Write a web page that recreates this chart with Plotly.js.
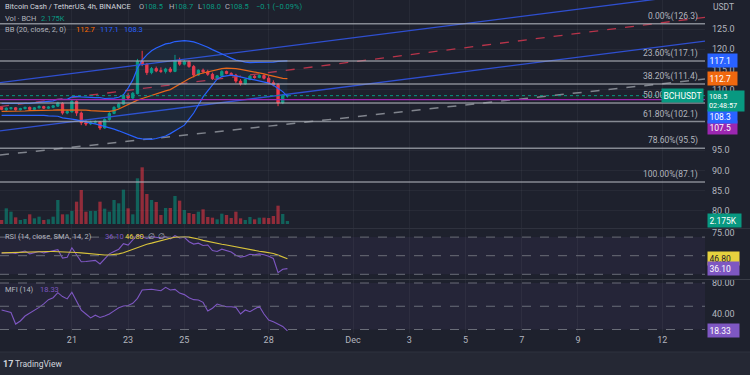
<!DOCTYPE html>
<html><head><meta charset="utf-8">
<script src="https://cdn.plot.ly/plotly-3.0.1.min.js"></script>
<style>html,body{margin:0;padding:0;background:#1e212d;overflow:hidden}#chart{width:750px;height:375px}</style>
</head><body><div id="chart"></div>
<script>
const times = [
'2022-11-18 12:00','2022-11-18 16:00','2022-11-18 20:00',
'2022-11-19 00:00','2022-11-19 04:00','2022-11-19 08:00','2022-11-19 12:00','2022-11-19 16:00','2022-11-19 20:00',
'2022-11-20 00:00','2022-11-20 04:00','2022-11-20 08:00','2022-11-20 12:00','2022-11-20 16:00','2022-11-20 20:00',
'2022-11-21 00:00','2022-11-21 04:00','2022-11-21 08:00','2022-11-21 12:00','2022-11-21 16:00','2022-11-21 20:00',
'2022-11-22 00:00','2022-11-22 04:00','2022-11-22 08:00','2022-11-22 12:00','2022-11-22 16:00','2022-11-22 20:00',
'2022-11-23 00:00','2022-11-23 04:00','2022-11-23 08:00','2022-11-23 12:00','2022-11-23 16:00','2022-11-23 20:00',
'2022-11-24 00:00','2022-11-24 04:00','2022-11-24 08:00','2022-11-24 12:00','2022-11-24 16:00','2022-11-24 20:00',
'2022-11-25 00:00','2022-11-25 04:00','2022-11-25 08:00','2022-11-25 12:00','2022-11-25 16:00','2022-11-25 20:00',
'2022-11-26 00:00','2022-11-26 04:00','2022-11-26 08:00','2022-11-26 12:00','2022-11-26 16:00','2022-11-26 20:00',
'2022-11-27 00:00','2022-11-27 04:00','2022-11-27 08:00','2022-11-27 12:00','2022-11-27 16:00','2022-11-27 20:00',
'2022-11-28 00:00','2022-11-28 04:00','2022-11-28 08:00','2022-11-28 12:00','2022-11-28 16:00'];

const openP = [105.6,105.0,105.3,105.5,105.0,105.3,105.6,105.1,105.5,105.8,
105.4,105.6,105.9,106.6,104.2,104.5,107.1,104.2,101.8,101.5,
101.9,102.0,100.5,102.6,104.1,105.6,106.4,108.6,107.9,109.0,
117.0,116.3,114.2,115.2,114.7,114.5,115.1,114.5,117.2,116.3,
116.9,115.7,113.6,114.8,114.4,113.8,112.7,113.4,114.5,114.0,
113.6,112.1,111.4,112.5,113.3,113.0,113.5,112.8,111.7,111.2,
106.7,108.46];
const highP = [105.8,105.6,105.7,105.7,105.5,105.8,105.8,105.7,106.1,106.0,
105.9,106.2,107.0,106.9,105.0,107.6,107.3,104.6,102.5,102.3,
102.4,102.2,102.9,104.4,105.9,106.8,108.9,109.2,109.4,117.6,
119.6,116.6,115.6,115.7,115.5,115.4,115.6,118.6,117.9,117.3,
117.2,116.1,115.0,115.2,114.9,114.2,113.6,114.8,114.7,114.3,
113.9,112.6,112.8,113.6,113.6,113.8,113.8,113.5,112.3,111.6,
108.9,108.7];
const lowP = [104.9,104.7,105.0,104.8,104.8,105.1,104.9,105.0,105.3,105.2,
105.2,105.4,105.7,103.8,103.9,104.3,103.5,101.2,101.0,101.2,
101.5,100.0,100.3,102.3,103.9,105.2,106.2,107.5,107.6,108.8,
115.8,113.6,113.8,114.3,114.1,114.0,114.2,114.3,115.9,116.0,
115.4,113.0,113.4,114.0,113.4,112.4,112.5,113.2,113.8,113.4,
111.6,111.0,111.2,112.3,112.7,112.8,112.5,111.3,110.8,105.9,
106.4,108.0];
const closeP = [105.1,105.4,105.5,105.0,105.3,105.6,105.1,105.5,105.8,105.4,
105.7,106.0,106.7,104.2,104.6,107.1,104.2,101.8,101.5,101.9,
102.1,100.5,102.6,104.1,105.6,106.4,108.6,107.9,109.1,117.0,
116.2,114.2,115.2,114.6,114.5,115.1,114.5,117.2,116.3,116.9,
115.7,113.6,114.8,114.4,113.8,112.7,113.4,114.5,114.0,113.6,
112.1,111.4,112.5,113.3,113.0,113.5,112.8,111.7,111.2,106.7,
108.6,108.5];
const volume = [2900,11360,8940,4830,2900,3630,7010,4110,5320,2900,
3380,5320,17400,7010,7010,9430,16190,24650,8940,9430,
9430,16190,11120,8940,17400,14990,24900,11360,7010,33110,
41090,21750,17400,15950,6530,11600,11600,20300,16920,10150,
7980,7250,8940,10640,5080,4590,3380,7490,6530,4350,
8940,4110,2900,5080,3380,4590,4590,4350,5800,13290,
7250,2175];
const bbUpper = [106.6,106.6,106.6,106.5,106.5,106.5,106.6,106.7,106.8,106.9,
107.0,107.2,107.6,107.6,107.6,108.2,108.3,108.2,108.2,108.1,
108.0,108.0,107.8,107.8,107.9,108.1,108.7,110.4,112.4,115.3,
117.3,118.6,119.6,120.3,120.8,121.3,121.5,121.9,122.0,122.1,
122.0,121.8,121.4,121.0,120.5,119.9,119.3,118.8,118.3,117.8,
117.3,117.1,116.8,116.7,116.7,116.7,116.7,116.7,116.8,117.0,
117.1,117.1];
const bbBasis = [104.6,104.6,104.6,104.7,104.7,104.7,104.8,104.8,104.8,104.9,
104.9,104.9,105.0,105.0,105.0,105.0,105.0,104.9,104.9,104.8,
104.7,104.6,104.6,104.6,104.8,105.2,105.8,106.3,106.9,107.4,
107.8,108.2,108.6,109.0,109.4,109.7,110.0,110.6,111.3,112.0,
112.7,113.3,113.8,114.1,114.4,114.7,115.0,115.2,115.3,115.3,
115.2,115.0,114.8,114.6,114.4,114.1,113.9,113.6,113.3,113.0,
112.8,112.7];
const bbLower = [103.6,103.6,103.6,103.7,103.7,103.7,103.7,103.7,103.6,103.6,
103.5,103.5,103.4,103.0,102.9,102.7,102.5,102.2,102.0,101.7,
101.5,101.2,100.9,100.5,100.2,99.8,99.3,98.8,98.4,98.0,
97.8,97.7,97.7,97.9,98.2,98.5,99.1,99.8,100.5,101.2,
102.7,104.2,106.2,108.2,109.7,111.1,112.6,113.2,113.4,113.6,
113.4,113.1,112.8,112.6,112.4,112.1,111.9,111.6,111.1,110.4,
109.5,108.3];
const rsi = [52.6,53.0,53.2,52.5,53.5,55.0,52.0,53.5,54.5,53.0,
54.0,55.4,56.5,47.5,48.3,58.5,50.5,43.5,43.8,44.8,
45.0,41.1,46.5,52.0,54.5,57.0,63.0,61.5,67.0,72.3,
70.5,68.5,70.5,69.5,69.0,70.5,68.0,71.5,69.0,69.8,
65.0,62.5,63.5,61.0,61.5,55.5,54.5,57.0,55.5,54.0,
50.5,48.5,49.5,51.5,51.0,52.0,51.0,49.5,47.0,31.7,
35.4,36.1];
const rsiSma = [53.0,53.2,53.5,53.8,54.0,54.2,54.3,54.3,54.3,54.4,
54.5,54.5,54.4,54.2,54.0,53.8,53.4,53.0,52.5,52.0,
51.5,51.0,50.8,50.8,51.2,52.0,53.2,55.0,57.0,59.0,
60.8,62.3,63.5,65.0,66.3,67.5,68.8,69.8,70.4,70.3,
70.0,69.3,68.0,66.5,65.3,64.2,63.2,62.3,61.5,60.5,
59.4,58.3,57.2,56.3,55.5,54.8,54.1,53.4,52.4,50.6,
48.7,46.8];
const mfi = [45.2,44.0,42.0,27.0,31.0,37.4,40.9,44.0,48.5,53.0,
58.5,61.0,67.5,62.5,59.5,68.0,57.0,45.0,40.0,35.0,
38.5,35.5,37.5,40.0,44.0,48.0,50.3,51.0,53.8,60.2,
71.0,71.5,72.0,71.0,70.0,74.4,71.0,71.8,67.0,65.0,
61.0,58.5,58.1,55.0,44.0,47.5,52.9,51.0,49.4,49.4,
48.6,40.0,45.2,43.0,46.0,50.0,40.0,32.3,30.0,27.1,
24.0,18.33];

const fibPrices = [126.3,117.1,111.4,106.7,102.1,95.5,87.1];
const fibLabels = ['0.00%(126.3)','23.60%(117.1)','38.20%(111.4)','50.00%(106.7)','61.80%(102.1)','78.60%(95.5)','100.00%(87.1)'];
const hLinePrice = 107.5;
const lineTimes = ['2022-11-18 10:38','2022-12-13 12:29'];
const channelUpper = [111.7,133.9];
const channelMid = [105.8,127.9];
const channelLower = [99.8,122.0];
const dashedTrend = [93.8,112.6];
const tickDates = ['2022-11-21','2022-11-23','2022-11-25','2022-11-28','2022-12-01','2022-12-03','2022-12-05','2022-12-07','2022-12-09','2022-12-12'];
const tickText = ['21','23','25','28','Dec','3','5','7','9','12'];
const priceTicks = [80,85,90,95,110,115,120,125];
const rsiTicks = [75];
const mfiTicks = [40,80];
const countdown = '02:48:57';

const UP='#089981', DN='#f23645', TXT='#b2b5be', BG='#1e212d';
const W=705, H=333;
const px = x => x/W, py = y => (H-y)/H;
const FONT = 'Roboto, "Open Sans", sans-serif';
const last = a => a[a.length-1];

const volColors = closeP.map((c,i)=> c>=openP[i] ? 'rgba(8,153,129,0.55)' : 'rgba(242,54,69,0.55)');

const traces = [
  {type:'scatter',mode:'lines',x:lineTimes,y:channelUpper,line:{color:'#2f4fd0',width:1.3},xaxis:'x',yaxis:'y'},
  {type:'scatter',mode:'lines',x:lineTimes,y:channelLower,line:{color:'#2f4fd0',width:1.3},xaxis:'x',yaxis:'y'},
  {type:'scatter',mode:'lines',x:lineTimes,y:channelMid,line:{color:'#b8344a',width:1.3,dash:'dash'},xaxis:'x',yaxis:'y'},
  {type:'scatter',mode:'lines',x:lineTimes,y:dashedTrend,line:{color:'#80848d',width:1.5,dash:'dash'},xaxis:'x',yaxis:'y'},
  {type:'scatter',mode:'lines',x:times,y:bbUpper,line:{color:'#2962ff',width:1.2},xaxis:'x',yaxis:'y'},
  {type:'scatter',mode:'lines',x:times,y:bbLower,line:{color:'#2962ff',width:1.2},fill:'tonexty',fillcolor:'rgba(33,150,243,0.06)',xaxis:'x',yaxis:'y'},
  {type:'scatter',mode:'lines',x:times,y:bbBasis,line:{color:'#e8671a',width:1.2},xaxis:'x',yaxis:'y'},
  {type:'candlestick',x:times,open:openP,high:highP,low:lowP,close:closeP,xaxis:'x',yaxis:'y',
    increasing:{line:{color:UP,width:1},fillcolor:UP},decreasing:{line:{color:DN,width:1},fillcolor:DN},whiskerwidth:0},
  {type:'bar',x:times,y:volume,marker:{color:volColors,line:{width:0}},xaxis:'x',yaxis:'y4'},
  {type:'scatter',mode:'lines',x:times,y:rsi,line:{color:'#7e57c2',width:1.1},xaxis:'x',yaxis:'y2'},
  {type:'scatter',mode:'lines',x:times,y:rsiSma,line:{color:'#d9c43b',width:1.1},xaxis:'x',yaxis:'y2'},
  {type:'scatter',mode:'lines',x:times,y:mfi,line:{color:'#7e57c2',width:1.1},xaxis:'x',yaxis:'y3'}
];

const gray = t => `<span style="color:${TXT}">${t}</span>`;
const col = (t,c) => `<span style="color:${c}">${t}</span>`;
const chg = last(closeP) - closeP[closeP.length-2];
const pct = chg/closeP[closeP.length-2]*100;
const fmtK = v => (v/1000).toFixed(3)+'K';

function hdr(x,y,text,size){return {xref:'paper',yref:'paper',x:px(x),y:py(y),xanchor:'left',yanchor:'middle',text:text,showarrow:false,font:{family:FONT,size:size||7.5,color:'#d1d4dc'}};}
function box(yref,y,text,bg,fc,yshift,w){return {xref:'paper',yref:yref,x:1,xanchor:'left',xshift:2,y:y,yanchor:'middle',yshift:yshift||0,text:text,showarrow:false,bgcolor:bg,borderpad:1.5,width:w||26,align:'left',font:{family:FONT,size:8.5,color:fc||'#ffffff'}};}

const annotations = [
  hdr(3,7,'Bitcoin Cash / TetherUS, 4h, BINANCE'),
  hdr(137,7,gray('O')+col(Math.round(last(openP)*10)/10+'',UP)),
  hdr(167,7,gray('H')+col(last(highP).toFixed(1),UP)),
  hdr(196,7,gray('L')+col(last(lowP).toFixed(1),UP)),
  hdr(223,7,gray('C')+col(last(closeP).toFixed(1),UP)),
  hdr(254,7,col('−'+Math.abs(chg).toFixed(1)+' (−'+Math.abs(pct).toFixed(2)+'%)',UP)),
  hdr(3,18,gray('Vol · BCH')),
  hdr(39,18,col(fmtK(last(volume)),UP)),
  hdr(3,29,gray('BB (20, close, 2, 0)')),
  hdr(74,29,col(last(bbBasis).toFixed(1),'#ff6d00')),
  hdr(98,29,col(last(bbUpper).toFixed(1),'#2962ff')),
  hdr(122,29,col(last(bbLower).toFixed(1),'#2962ff')),
  hdr(3,236,gray('RSI (14, close, SMA, 14, 2)')),
  hdr(103,236,col(last(rsi).toFixed(2),'#7e57c2')),
  hdr(123,236,col(last(rsiSma).toFixed(2),'#e6d23e')),
  hdr(146,236,gray('∅')),
  hdr(156,236,gray('∅')),
  hdr(3,289,gray('MFI (14)')),
  hdr(38,289,col(last(mfi).toFixed(2),'#7e57c2')),
  {xref:'paper',yref:'paper',x:px(711),y:py(7),xanchor:'left',yanchor:'middle',text:'USDT',showarrow:false,font:{family:FONT,size:8.5,color:TXT}},
  {xref:'paper',yref:'paper',x:px(1),y:py(364),xanchor:'left',yanchor:'middle',text:'<b>17</b>',showarrow:false,font:{family:FONT,size:9,color:'#d1d4dc'}},
  {xref:'paper',yref:'paper',x:px(13),y:py(364),xanchor:'left',yanchor:'middle',text:'TradingView',showarrow:false,font:{family:FONT,size:8.5,color:'#d1d4dc'}}
];
fibPrices.forEach((p,i)=>annotations.push({xref:'paper',yref:'y',x:px(700),y:p,xanchor:'right',yanchor:'bottom',yshift:0,text:fibLabels[i],showarrow:false,font:{family:FONT,size:8.5,color:TXT}}));
annotations.push(
  box('y',last(bbUpper),last(bbUpper).toFixed(1),'#2962ff'),
  box('y',last(bbBasis),last(bbBasis).toFixed(1),'#f0680f'),
  box('y',hLinePrice,hLinePrice.toFixed(1),'#9c27b0','#fff',-27.5),
  box('y',last(bbLower),last(bbLower).toFixed(1),'#2962ff','#fff',-20.5),
  {xref:'paper',yref:'y',x:1,xanchor:'left',xshift:2,y:last(closeP),yanchor:'top',yshift:5.5,text:last(closeP).toFixed(1)+'<br>'+countdown,showarrow:false,bgcolor:UP,borderpad:1,width:34,align:'left',font:{family:FONT,size:7.3,color:'#ffffff'}},
  {xref:'paper',yref:'y',x:1,xanchor:'right',xshift:-1,y:last(closeP),yanchor:'middle',text:'BCHUSDT',showarrow:false,bgcolor:UP,borderpad:1.5,font:{family:FONT,size:8.5,color:'#ffffff'}},
  box('y4',last(volume),fmtK(last(volume)),'#089981','#fff',1,30),
  box('y2',last(rsiSma),last(rsiSma).toFixed(2),'#e6d23e','#1e212d',0,28),
  box('y2',last(rsi),last(rsi).toFixed(2),'#7e57c2','#fff',0,28),
  box('y3',last(mfi),last(mfi).toFixed(2),'#7e57c2','#fff',0,28)
);

const shapes = [
  {type:'rect',xref:'paper',yref:'y2',x0:0,x1:1,y0:30,y1:70,fillcolor:'rgba(126,87,194,0.08)',line:{width:0},layer:'below'},
  {type:'rect',xref:'paper',yref:'y3',x0:0,x1:1,y0:20,y1:80,fillcolor:'rgba(126,87,194,0.08)',line:{width:0},layer:'below'},
  {type:'rect',xref:'paper',yref:'paper',x0:0,x1:750/W,y0:py(375),y1:py(352),fillcolor:'#252834',line:{width:0},layer:'below'},
  {type:'line',xref:'paper',yref:'paper',x0:0,x1:750/W,y0:py(352),y1:py(352),line:{color:'#2f323e',width:1}},
  {type:'line',xref:'paper',yref:'paper',x0:0,x1:750/W,y0:py(228.5),y1:py(228.5),line:{color:'#2f323e',width:1}},
  {type:'line',xref:'paper',yref:'paper',x0:0,x1:750/W,y0:py(279.5),y1:py(279.5),line:{color:'#3a3d48',width:1}},
  {type:'line',xref:'paper',yref:'y',x0:0,x1:1,y0:hLinePrice,y1:hLinePrice,line:{color:'#9c27b0',width:1.2}},
  {type:'line',xref:'paper',yref:'y',x0:0,x1:1,y0:last(closeP),y1:last(closeP),line:{color:UP,width:1,dash:'dot'}}
];
fibPrices.forEach(p=>shapes.push({type:'line',xref:'paper',yref:'y',x0:0,x1:1,y0:p,y1:p,line:{color:'rgba(170,173,182,0.75)',width:1.5}}));
[70,50,30].forEach(v=>shapes.push({type:'line',xref:'paper',yref:'y2',x0:0,x1:1,y0:v,y1:v,line:{color:'#6a6d78',width:1,dash:'dash'}}));
[80,50,20].forEach(v=>shapes.push({type:'line',xref:'paper',yref:'y3',x0:0,x1:1,y0:v,y1:v,line:{color:'#6a6d78',width:1,dash:'dash'}}));

const gridC = 'rgba(255,255,255,0.045)';
const layout = {
  width:750,height:375,margin:{l:0,r:45,t:0,b:42},
  paper_bgcolor:BG,plot_bgcolor:BG,showlegend:false,bargap:0.3,
  font:{family:FONT,size:9,color:TXT},
  xaxis:{type:'date',range:['2022-11-18 10:38','2022-12-13 12:29'],anchor:'y3',rangeslider:{visible:false},
    tickvals:tickDates,ticktext:tickText,tickfont:{size:9,color:TXT},showgrid:true,gridcolor:gridC,zeroline:false,showline:false,ticks:''},
  yaxis:{domain:[py(228),1],range:[75.74,132.18],side:'right',anchor:'x',tickvals:priceTicks,ticktext:priceTicks.map(v=>v.toFixed(1)),
    tickfont:{size:9,color:TXT},showgrid:true,gridcolor:gridC,zeroline:false,ticks:'',ticklabelstandoff:6},
  yaxis4:{overlaying:'y',range:[-2900,162400],visible:false,showgrid:false,zeroline:false},
  yaxis2:{domain:[py(279),py(229)],range:[24.95,78.71],side:'right',anchor:'x',tickvals:rsiTicks,ticktext:rsiTicks.map(v=>v.toFixed(2)),
    tickfont:{size:9,color:TXT},showgrid:false,zeroline:false,ticks:'',ticklabelstandoff:6},
  yaxis3:{domain:[0,py(280)],range:[15.48,83.87],side:'right',anchor:'x',tickvals:mfiTicks,ticktext:mfiTicks.map(v=>v.toFixed(2)),
    tickfont:{size:9,color:TXT},showgrid:false,zeroline:false,ticks:'',ticklabelstandoff:6},
  annotations:annotations,shapes:shapes
};
Plotly.newPlot('chart',traces,layout,{staticPlot:true,displayModeBar:false});
</script></body></html>
